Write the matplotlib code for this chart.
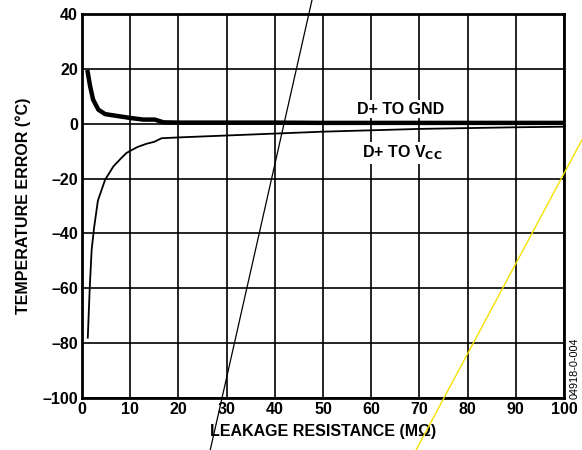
import matplotlib
matplotlib.use("Agg")
import matplotlib.pyplot as plt

# D+ TO GND (thick curve)
gnd_x = [1.1, 1.7, 2.3, 3.4, 4.8, 7.0, 10.0, 12.7, 15.1, 16.9, 20, 30, 40, 50, 60, 70, 80, 90, 100]
gnd_y = [19.6, 13.5, 8.8, 5.1, 3.5, 2.9, 2.1, 1.5, 1.5, 0.5, 0.4, 0.4, 0.4, 0.3, 0.3, 0.3, 0.3, 0.3, 0.3]

# D+ TO VCC (thin curve)
vcc_x = [1.2, 1.6, 2.0, 2.5, 3.3, 4.8, 6.5, 8.0, 9.2, 10.0, 11.5, 13.4, 15.0, 16.5, 20, 30, 40, 50, 60, 70, 80, 90, 100]
vcc_y = [-78, -60, -46, -38, -28, -20.4, -15.6, -12.8, -10.7, -9.9, -8.5, -7.3, -6.6, -5.3, -5.0, -4.3, -3.6, -2.9, -2.4, -1.9, -1.6, -1.3, -1.1]

# stray diagonal strokes in the scanned figure
black_x = [26.6, 47.7]
black_y = [-119, 45]
yellow_x = [69.3, 103.7]
yellow_y = [-119, -6]

xticks = list(range(0, 101, 10))
yticks = list(range(-100, 41, 20))

plt.rcParams['font.family'] = ['Liberation Sans', 'DejaVu Sans']

fig = plt.figure(figsize=(5.82, 4.5), dpi=100)
ax = fig.add_axes([0.1409, 0.1156, 0.8282, 0.8533])

ax.plot(gnd_x, gnd_y, color="black", lw=3.2, solid_capstyle="butt", zorder=3)
ax.plot(vcc_x, vcc_y, color="black", lw=1.3, zorder=3)

ax.set_xlim(0, 100)
ax.set_ylim(-100, 40)
ax.set_xticks(xticks)
ax.set_yticks(yticks)
ax.set_xticklabels([str(t) for t in xticks], fontweight="bold", fontsize=11.5)
ax.set_yticklabels([str(t).replace("-", "–") for t in yticks], fontweight="bold", fontsize=11.5)
ax.tick_params(length=0, pad=3)
ax.grid(True, color="black", lw=1.2)
for s in ax.spines.values():
    s.set_linewidth(2)

ax.set_xlabel("LEAKAGE RESISTANCE (MΩ)", fontweight="bold", fontsize=11.5, labelpad=5)
ax.set_ylabel("TEMPERATURE ERROR (°C)", fontweight="bold", fontsize=11.5, labelpad=8)

box = dict(facecolor="white", edgecolor="none", pad=1)
ax.text(66, 5.3, "D+ TO GND", fontweight="bold", fontsize=11.5, ha="center", va="center", bbox=box, zorder=4)
ax.text(66.4, -10.7, "D+ TO V$_{\\mathbf{CC}}$", fontweight="bold", fontsize=11.5, ha="center", va="center", bbox=box, zorder=4)

fig.text(0.988, 0.182, "04918-0-004", rotation=90, fontsize=7.8, ha="center", va="center")

ax.plot(black_x, black_y, color="black", lw=0.9, clip_on=False, zorder=5)
ax.plot(yellow_x, yellow_y, color="#f5e000", lw=1.0, clip_on=False, zorder=5)

fig.savefig("out.png", dpi=100)
